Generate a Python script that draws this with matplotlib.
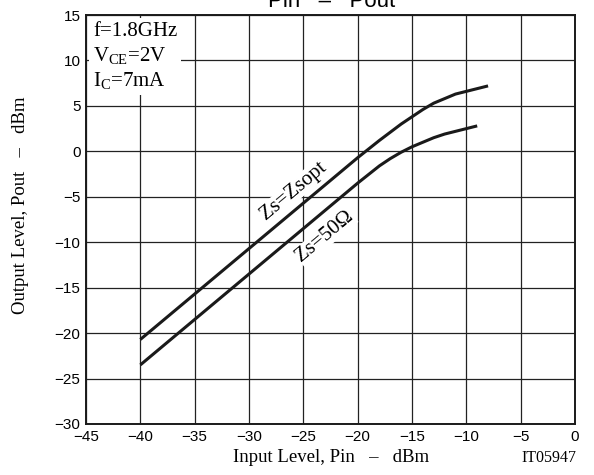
import matplotlib.pyplot as plt

# Pin - Pout curves (dBm)
pin_opt = [-40, -35, -30, -25, -20, -18, -16, -15, -14, -13, -12, -11, -10, -9, -8]
pout_opt = [-20.7, -15.7, -10.7, -5.7, -0.7, 1.2, 3.0, 3.8, 4.6, 5.3, 5.8, 6.3, 6.6, 6.9, 7.2]
pin_50 = [-40, -35, -30, -25, -20, -18, -17, -16, -15, -14, -13, -12, -11, -10, -9]
pout_50 = [-23.5, -18.5, -13.5, -8.5, -3.5, -1.6, -0.8, -0.1, 0.5, 1.0, 1.5, 1.9, 2.2, 2.5, 2.8]

xticks = list(range(-45, 1, 5))
yticks = list(range(-30, 16, 5))

serif = 'Liberation Serif'
sans = 'Liberation Sans'

plt.rcParams['mathtext.fontset'] = 'custom'
plt.rcParams['mathtext.rm'] = serif
plt.rcParams['mathtext.it'] = serif + ':italic'

fig = plt.figure(figsize=(5.94, 4.75), dpi=100)
ax = fig.add_axes([0.1448, 0.1074, 0.8232, 0.861])

ax.plot(pin_opt, pout_opt, color='#1a1a1a', lw=2.2, solid_capstyle='butt', zorder=3)
ax.plot(pin_50, pout_50, color='#1a1a1a', lw=2.2, solid_capstyle='butt', zorder=3)

ax.set_xlim(-45, 0)
ax.set_ylim(-30, 15)
ax.set_xticks(xticks)
ax.set_yticks(yticks)
ax.set_xticklabels(['\u2212%d' % -v if v < 0 else str(v) for v in xticks], family=sans, fontsize=11)
ax.set_yticklabels(['\u2212%d' % -v if v < 0 else str(v) for v in yticks], family=sans, fontsize=11)
ax.tick_params(length=0, pad=4)
ax.grid(True, color='#222222', lw=0.9)
for s in ax.spines.values():
    s.set_linewidth(1.4)
    s.set_color('#1a1a1a')

# conditions block
ax.text(-44.35, 14.2, 'f=1.8GHz\nV$_{\\rm CE}$=2V\nI$_{\\rm C}$=7mA', family=serif,
        fontsize=15, va='top', ha='left', linespacing=1.25,
        bbox=dict(facecolor='white', edgecolor='none', pad=3), zorder=4)

ax.text(-25.9, -4.4, 'Zs=Zsopt', family=serif, fontsize=15, rotation=40,
        ha='center', va='center', rotation_mode='anchor',
        bbox=dict(facecolor='white', edgecolor='none', pad=0.5), zorder=4)
ax.text(-23.0, -9.4, 'Zs=50\u03a9', family=serif, fontsize=15, rotation=40,
        ha='center', va='center', rotation_mode='anchor',
        bbox=dict(facecolor='white', edgecolor='none', pad=0.5), zorder=4)

fig.text(0.558, 0.986, 'Pin   \u2013   Pout', family=sans, fontsize=16, ha='center', va='baseline')
fig.text(0.558, 0.036, 'Input Level, Pin   \u2013   dBm', family=serif, fontsize=13.5, ha='center', va='center')
fig.text(0.035, 0.568, 'Output Level, Pout   \u2013   dBm', family=serif, fontsize=13.5,
         ha='center', va='center', rotation=90)
fig.text(0.971, 0.036, 'IT05947', family=serif, fontsize=11.5, ha='right', va='center')

fig.savefig('out.png', dpi=100)
